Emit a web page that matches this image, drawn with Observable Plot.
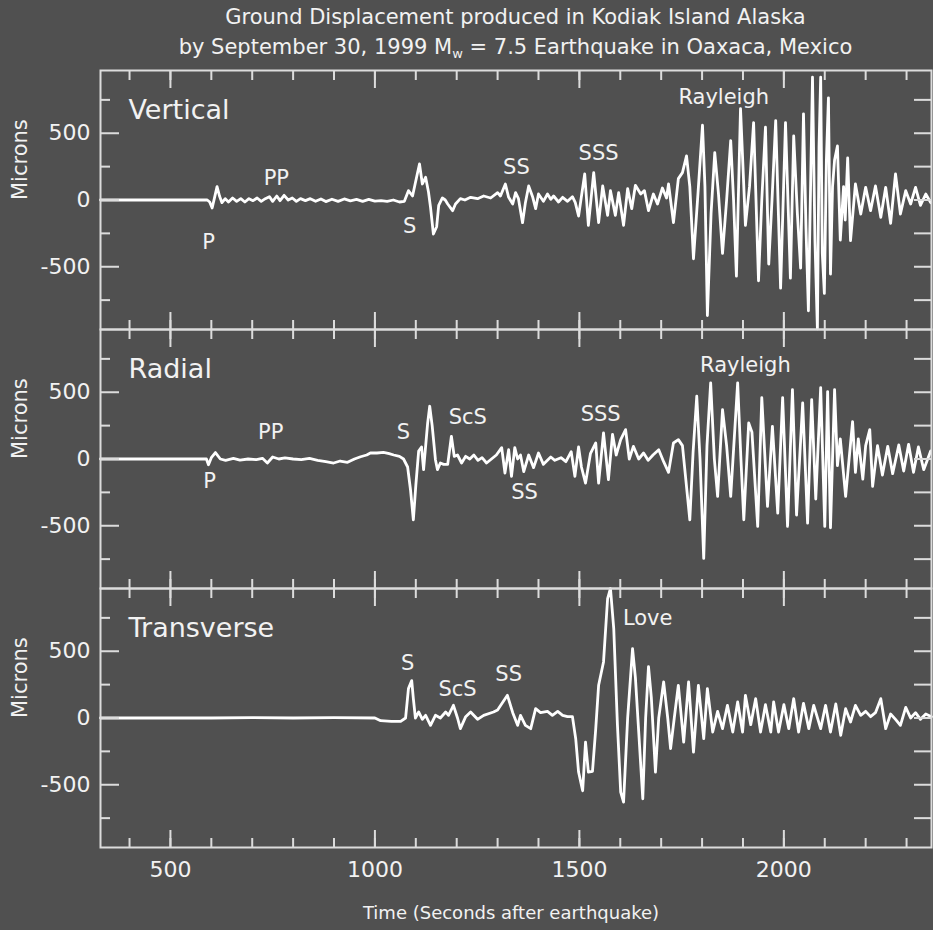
<!DOCTYPE html>
<html><head><meta charset="utf-8">
<script src="https://cdn.jsdelivr.net/npm/d3@7"></script>
<script src="https://cdn.jsdelivr.net/npm/@observablehq/plot@0.6"></script>
<style>
html,body{margin:0;padding:0;background:#505050;}
body{width:933px;height:930px;overflow:hidden;font-family:"DejaVu Sans",sans-serif;color:#f2f2f2;}
#head{height:62px;padding:2px 2px 0 100px;box-sizing:border-box;text-align:center;font-size:21px;line-height:30px;}
#head sub{font-size:13px;line-height:0;vertical-align:-4px;}
#chart svg{display:block;}
</style></head>
<body>
<div id="head"><div>Ground Displacement produced in Kodiak Island Alaska</div><div>by September 30, 1999 M<sub>w</sub> = 7.5 Earthquake in Oaxaca, Mexico</div></div>
<div id="chart"></div>
<script>
// Components (panels)
const components = ["Vertical", "Radial", "Transverse"];

// Traces: [time (s after earthquake), displacement (microns)]
const verticalTrace = [[329,0],[590,0],[596,-15],[602,-60],[608,20],[614,100],[620,30],[626,-20],[634,10],[642,-15],[652,15],[662,-10],[672,10],[682,-15],[692,10],[702,-5],[712,15],[722,-10],[732,10],[742,25],[750,-10],[760,30],[768,-5],[778,35],[788,0],[798,15],[808,-10],[818,10],[830,-5],[842,10],[855,-10],[868,8],[880,-12],[895,6],[910,-10],[925,8],[940,-6],[955,5],[970,-10],[985,5],[1000,-8],[1015,-5],[1030,-10],[1045,0],[1060,-15],[1072,-10],[1082,70],[1092,30],[1104,200],[1109,270],[1116,120],[1124,170],[1131,60],[1136,-55],[1143,-255],[1151,-200],[1156,-40],[1165,15],[1172,0],[1178,-30],[1190,-80],[1197,-30],[1209,10],[1220,0],[1234,20],[1251,10],[1266,30],[1283,15],[1300,55],[1307,30],[1319,120],[1327,20],[1337,-30],[1344,55],[1351,10],[1361,-170],[1368,-20],[1376,105],[1386,20],[1393,-65],[1400,45],[1412,-10],[1422,45],[1430,5],[1437,30],[1449,-15],[1459,20],[1471,-10],[1483,25],[1490,-20],[1498,-120],[1513,195],[1522,-190],[1535,205],[1547,-170],[1557,105],[1569,-115],[1576,70],[1588,-115],[1596,55],[1608,-190],[1618,85],[1628,-65],[1637,110],[1650,45],[1659,70],[1669,-80],[1681,45],[1691,-30],[1703,90],[1713,15],[1718,120],[1730,-170],[1742,160],[1752,205],[1762,330],[1770,100],[1779,-440],[1790,50],[1801,560],[1807,100],[1813,-865],[1822,-100],[1831,355],[1840,50],[1850,-400],[1860,0],[1870,445],[1877,0],[1884,-570],[1894,685],[1900,250],[1906,-190],[1916,100],[1926,580],[1938,-605],[1946,0],[1955,545],[1963,-480],[1971,0],[1980,595],[1992,-660],[2004,580],[2016,-585],[2024,480],[2033,-100],[2041,-510],[2048,645],[2054,-200],[2060,-830],[2070,920],[2076,-300],[2082,-965],[2086,400],[2090,920],[2094,-400],[2099,-700],[2104,300],[2109,765],[2114,-555],[2119,100],[2124,300],[2131,405],[2138,-300],[2146,100],[2150,-150],[2156,315],[2163,-305],[2175,120],[2188,-105],[2200,95],[2212,-80],[2224,105],[2237,-130],[2249,95],[2261,-175],[2273,195],[2285,-105],[2298,70],[2310,-30],[2322,95],[2334,-40],[2347,45],[2359,-20]];

const radialTrace = [[329,0],[588,0],[593,-43],[600,10],[610,48],[622,0],[635,-10],[654,5],[670,-8],[690,0],[710,-5],[725,5],[737,-30],[750,15],[765,0],[780,8],[800,0],[820,-5],[840,5],[860,-10],[880,-20],[899,-30],[915,-15],[933,-25],[950,0],[965,17],[980,30],[989,45],[1005,45],[1021,50],[1035,40],[1046,30],[1060,20],[1070,0],[1080,-60],[1087,-230],[1094,-455],[1100,-200],[1107,60],[1114,90],[1119,-80],[1129,270],[1134,395],[1140,250],[1148,-5],[1153,-80],[1160,-30],[1168,-40],[1178,-40],[1187,170],[1194,20],[1202,30],[1212,-30],[1222,20],[1232,0],[1242,30],[1252,-10],[1262,10],[1273,-30],[1285,0],[1297,30],[1310,85],[1318,-105],[1327,70],[1334,-130],[1342,85],[1349,0],[1356,30],[1364,-95],[1376,30],[1388,-65],[1400,45],[1412,-40],[1430,15],[1440,-10],[1455,10],[1467,-20],[1480,55],[1489,-130],[1498,90],[1505,-60],[1515,-180],[1527,40],[1540,120],[1547,-180],[1559,195],[1571,-155],[1581,185],[1590,30],[1601,145],[1613,220],[1622,0],[1632,95],[1645,0],[1657,45],[1668,-10],[1680,30],[1694,70],[1706,-20],[1718,-100],[1730,120],[1742,145],[1752,100],[1770,-455],[1778,50],[1787,470],[1795,0],[1804,-745],[1812,100],[1821,570],[1830,0],[1838,-280],[1850,370],[1860,100],[1870,-280],[1887,570],[1895,0],[1902,-455],[1914,270],[1922,200],[1936,-505],[1946,460],[1960,-355],[1972,245],[1985,-405],[1997,460],[2009,-505],[2021,520],[2031,-420],[2046,420],[2058,-480],[2068,445],[2078,-300],[2090,535],[2100,-505],[2107,505],[2114,-515],[2124,520],[2131,-50],[2138,150],[2151,-280],[2168,280],[2175,-100],[2182,150],[2193,-150],[2200,100],[2210,220],[2217,-205],[2229,100],[2241,-120],[2254,95],[2266,-110],[2281,105],[2293,-90],[2305,110],[2317,-100],[2329,90],[2342,-80],[2359,60]];

const transverseTrace = [[329,0],[600,0],[700,3],[800,0],[900,3],[1000,0],[1014,-20],[1040,-25],[1063,-25],[1075,0],[1082,220],[1090,280],[1094,145],[1099,0],[1107,45],[1116,-10],[1124,20],[1136,-55],[1148,20],[1160,0],[1173,45],[1180,20],[1192,95],[1202,0],[1209,-80],[1222,10],[1234,45],[1251,-10],[1266,20],[1290,45],[1300,60],[1324,170],[1337,40],[1349,-55],[1356,20],[1368,-55],[1381,-80],[1393,70],[1405,40],[1422,50],[1434,20],[1447,50],[1459,20],[1471,10],[1483,10],[1491,-155],[1498,-405],[1508,-545],[1515,-180],[1522,-405],[1532,-400],[1540,-80],[1547,245],[1559,420],[1569,895],[1576,970],[1584,670],[1593,-50],[1601,-555],[1608,-630],[1618,0],[1630,520],[1637,300],[1645,-100],[1655,-605],[1662,0],[1669,385],[1676,150],[1686,-405],[1694,0],[1706,270],[1716,0],[1723,-230],[1732,0],[1742,245],[1755,-180],[1767,270],[1779,-255],[1791,245],[1804,-155],[1813,220],[1826,-105],[1838,50],[1850,-80],[1862,95],[1875,-105],[1887,120],[1899,-105],[1906,170],[1919,-50],[1931,145],[1943,-105],[1955,100],[1968,-105],[1975,120],[1987,-105],[2000,100],[2012,-80],[2024,145],[2036,-105],[2048,110],[2061,-80],[2073,95],[2090,-80],[2102,95],[2114,-105],[2127,105],[2139,-130],[2151,70],[2163,-30],[2175,95],[2188,20],[2200,50],[2212,10],[2224,40],[2237,145],[2249,-80],[2261,30],[2273,-10],[2285,-55],[2298,80],[2310,0],[2322,40],[2334,-10],[2347,30],[2361,10]];

// Phase annotations
const phaseComponent = ["Vertical","Vertical","Vertical","Vertical","Vertical","Vertical","Radial","Radial","Radial","Radial","Radial","Radial","Radial","Transverse","Transverse","Transverse","Transverse"];
const phaseName = ["P","PP","S","SS","SSS","Rayleigh","P","PP","S","ScS","SSS","SS","Rayleigh","S","ScS","SS","Love"];
const phaseTime = [593,759,1085,1346,1547,1853,596,745,1070,1227,1552,1366,1906,1080,1202,1327,1667];
const phaseAmp = [-320,160,-200,243,347,767,-170,197,197,310,332,-252,700,407,212,325,745];

// Axes ticks and labels
const xMajorTicks = [500, 1000, 1500, 2000];
const xMinorTicks = [400,500,600,700,800,900,1000,1100,1200,1300,1400,1500,1600,1700,1800,1900,2000,2100,2200,2300];
const yMajorTicks = [-500, 0, 500];
const yMinorTicks = [-750, -250, 250, 750];
const yRightTicks = [-750, -500, -250, 0, 250, 500, 750];
const xLabel = "Time (Seconds after earthquake)";
const yLabel = "Microns";

const traces = {Vertical: verticalTrace, Radial: radialTrace, Transverse: transverseTrace};
const rows = components.flatMap(c => traces[c].map(([t, v]) => ({comp: c, t, v})));
const phases = phaseName.map((name, i) => ({comp: phaseComponent[i], name, t: phaseTime[i], v: phaseAmp[i]}));
const xTickRows = xMajorTicks.map(t => ({comp: "Transverse", t}));

const W = 933, H = 868, mT = 8, mB = 83, mL = 100, mR = 2;
const panelH = (H - mT - mB) / 3, panelW = W - mL - mR;
const ink = "#f2f2f2", frameInk = "#dcdcdc";
const font = "DejaVu Sans, sans-serif";

const chart = Plot.plot({
  width: W, height: H,
  marginTop: mT, marginBottom: mB, marginLeft: mL, marginRight: mR,
  style: {background: "transparent", color: ink, fontFamily: font, overflow: "visible"},
  x: {domain: [329, 2361], axis: null},
  y: {domain: [-970, 970], axis: null},
  fy: {domain: components, axis: null, padding: 0},
  marks: [
    Plot.line(rows, {x: "t", y: "v", fy: "comp", z: "comp", stroke: "#ffffff", strokeWidth: 2.8, strokeLinejoin: "round"}),
    Plot.frame({stroke: frameInk, strokeWidth: 2}),
    // bottom ticks
    Plot.tickX(xMinorTicks, {x: d => d, stroke: frameInk, strokeWidth: 2, insetTop: panelH - 9}),
    Plot.tickX(xMajorTicks, {x: d => d, stroke: frameInk, strokeWidth: 2, insetTop: panelH - 17}),
    // top ticks
    Plot.tickX(xMinorTicks, {x: d => d, stroke: frameInk, strokeWidth: 2, insetBottom: panelH - 10}),
    Plot.tickX(xMajorTicks, {x: d => d, stroke: frameInk, strokeWidth: 2, insetBottom: panelH - 18}),
    // left ticks
    Plot.tickY(yMinorTicks, {y: d => d, stroke: frameInk, strokeWidth: 2, insetRight: panelW - 10}),
    Plot.tickY(yMajorTicks, {y: d => d, stroke: frameInk, strokeWidth: 2, insetRight: panelW - 19}),
    // right ticks
    Plot.tickY(yRightTicks, {y: d => d, stroke: frameInk, strokeWidth: 2, insetLeft: panelW - 17}),
    // y tick labels
    Plot.text(yMajorTicks, {y: d => d, text: d => String(d), frameAnchor: "left", dx: -10, textAnchor: "end", fontSize: 22, fill: ink}),
    // y label
    Plot.text([yLabel], {text: d => d, frameAnchor: "left", dx: -80, rotate: -90, fontSize: 21, fill: ink}),
    // panel names
    Plot.text(components, {fy: d => d, text: d => d, frameAnchor: "top-left", dx: 28, dy: 29, textAnchor: "start", fontSize: 27, fill: ink}),
    // phase labels
    Plot.text(phases, {x: "t", y: "v", fy: "comp", text: "name", fontSize: 21, fill: ink}),
    // x tick labels
    Plot.text(xTickRows, {x: "t", fy: "comp", text: d => String(d.t), frameAnchor: "bottom", dy: 29, fontSize: 22, fill: ink}),
    // x label
    Plot.text([{comp: "Transverse", label: xLabel}], {fy: "comp", text: "label", frameAnchor: "bottom", dy: 71, dx: -5, fontSize: 18, fill: ink})
  ]
});
document.getElementById("chart").appendChild(chart);
</script>
</body></html>
